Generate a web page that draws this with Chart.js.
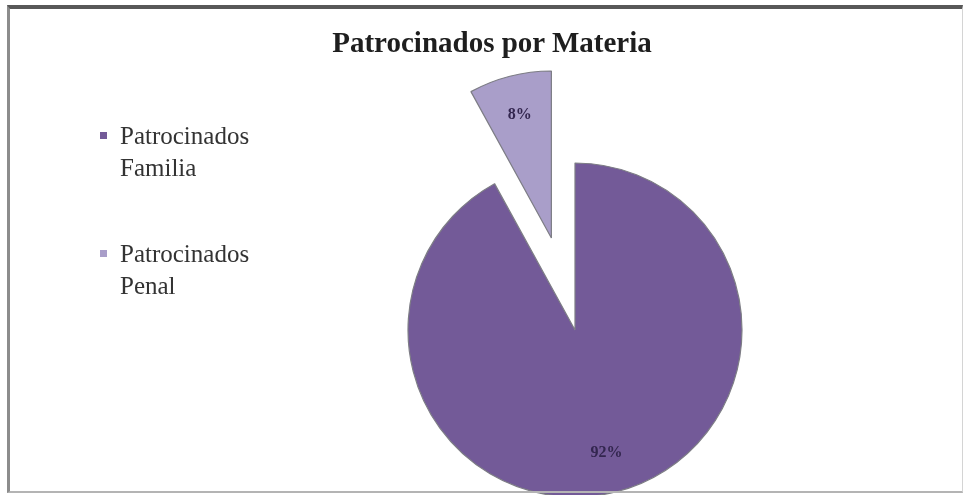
<!DOCTYPE html>
<html>
<head>
<meta charset="utf-8">
<script src="https://cdn.jsdelivr.net/npm/chart.js@4/dist/chart.umd.min.js"></script>
<style>
  html, body { margin: 0; padding: 0; background: #fff; }
  #wrap { position: relative; width: 965px; height: 495px; overflow: hidden; background: #fff; }
  #c { position: absolute; left: 0; top: 0; }
  #frame { position: absolute; left: 7px; top: 5px; width: 952px; height: 482px;
           border-top: 4px solid #585858; border-left: 3px solid #8c8c8c;
           border-bottom: 2px solid #b4b4b4; border-right: 1px solid #d4d4d4; pointer-events: none; }
  #title { position: absolute; top: 28px; left: 292px; width: 400px; text-align: center;
           font: bold 29px "Liberation Serif", "DejaVu Serif", serif; line-height: 29px; color: #1e1e1e; }
  .leg { position: absolute; left: 100px; font: 25px "Liberation Serif", serif; line-height: 32px; color: #333; }
  .leg .sw { position: absolute; left: 0; top: 12px; width: 7px; height: 7px; }
  .leg .tx { position: absolute; left: 20px; top: 0; white-space: nowrap; }
</style>
</head>
<body>
<div id="wrap">
  <canvas id="c" width="965" height="495"></canvas>
  <div id="title"></div>
  <div id="legend"></div>
  <div id="frame"></div>
</div>
<script>
// ---- data ----
const chartTitle = "Patrocinados por Materia";
const categories = [["Patrocinados", "Familia"], ["Patrocinados", "Penal"]];
const values = [92, 8];
const valueLabels = ["92%", "8%"];

// ---- styles ----
const sliceColors = ["#735a98", "#a99ec9"];
const explodePx = [0, 95];
const legendTops = [120, 238];

document.getElementById('title').textContent = chartTitle;

const legendEl = document.getElementById('legend');
categories.forEach((lines, i) => {
  const item = document.createElement('div');
  item.className = 'leg';
  item.style.top = legendTops[i] + 'px';
  const sw = document.createElement('div');
  sw.className = 'sw';
  sw.style.background = sliceColors[i];
  const tx = document.createElement('div');
  tx.className = 'tx';
  tx.innerHTML = lines.map(l => l.replace(/&/g, '&amp;').replace(/</g, '&lt;')).join('<br>');
  item.appendChild(sw);
  item.appendChild(tx);
  legendEl.appendChild(item);
});

const explodePlugin = {
  id: 'explodePie',
  beforeDatasetDraw(chart, args) {
    const ctx = chart.ctx;
    const meta = args.meta;
    meta.data.forEach((arc, i) => {
      const mid = (arc.startAngle + arc.endAngle) / 2;
      const d = explodePx[i] || 0;
      ctx.save();
      ctx.translate(Math.cos(mid) * d, Math.sin(mid) * d);
      arc.draw(ctx, chart.chartArea);
      ctx.restore();
    });
    // value labels
    ctx.save();
    ctx.font = 'bold 16px "Liberation Serif", serif';
    ctx.fillStyle = '#33264f';
    ctx.textAlign = 'center';
    ctx.textBaseline = 'middle';
    meta.data.forEach((arc, i) => {
      const mid = (arc.startAngle + arc.endAngle) / 2;
      const d = (explodePx[i] || 0) + arc.outerRadius * 0.76;
      ctx.fillText(valueLabels[i], arc.x + Math.cos(mid) * d, arc.y + Math.sin(mid) * d);
    });
    ctx.restore();
    return false;
  }
};

new Chart(document.getElementById('c'), {
  type: 'pie',
  data: {
    labels: categories.map(l => l.join(' ')),
    datasets: [{
      data: values,
      backgroundColor: sliceColors,
      borderColor: '#7d7d85',
      borderWidth: 1.2,
      radius: 167,
      clip: false
    }]
  },
  options: {
    responsive: false,
    animation: false,
    layout: { padding: { left: 185, right: 0, top: 165, bottom: 0 } },
    plugins: {
      legend: { display: false },
      title: { display: false },
      tooltip: { enabled: false }
    }
  },
  plugins: [explodePlugin]
});
</script>
</body>
</html>
